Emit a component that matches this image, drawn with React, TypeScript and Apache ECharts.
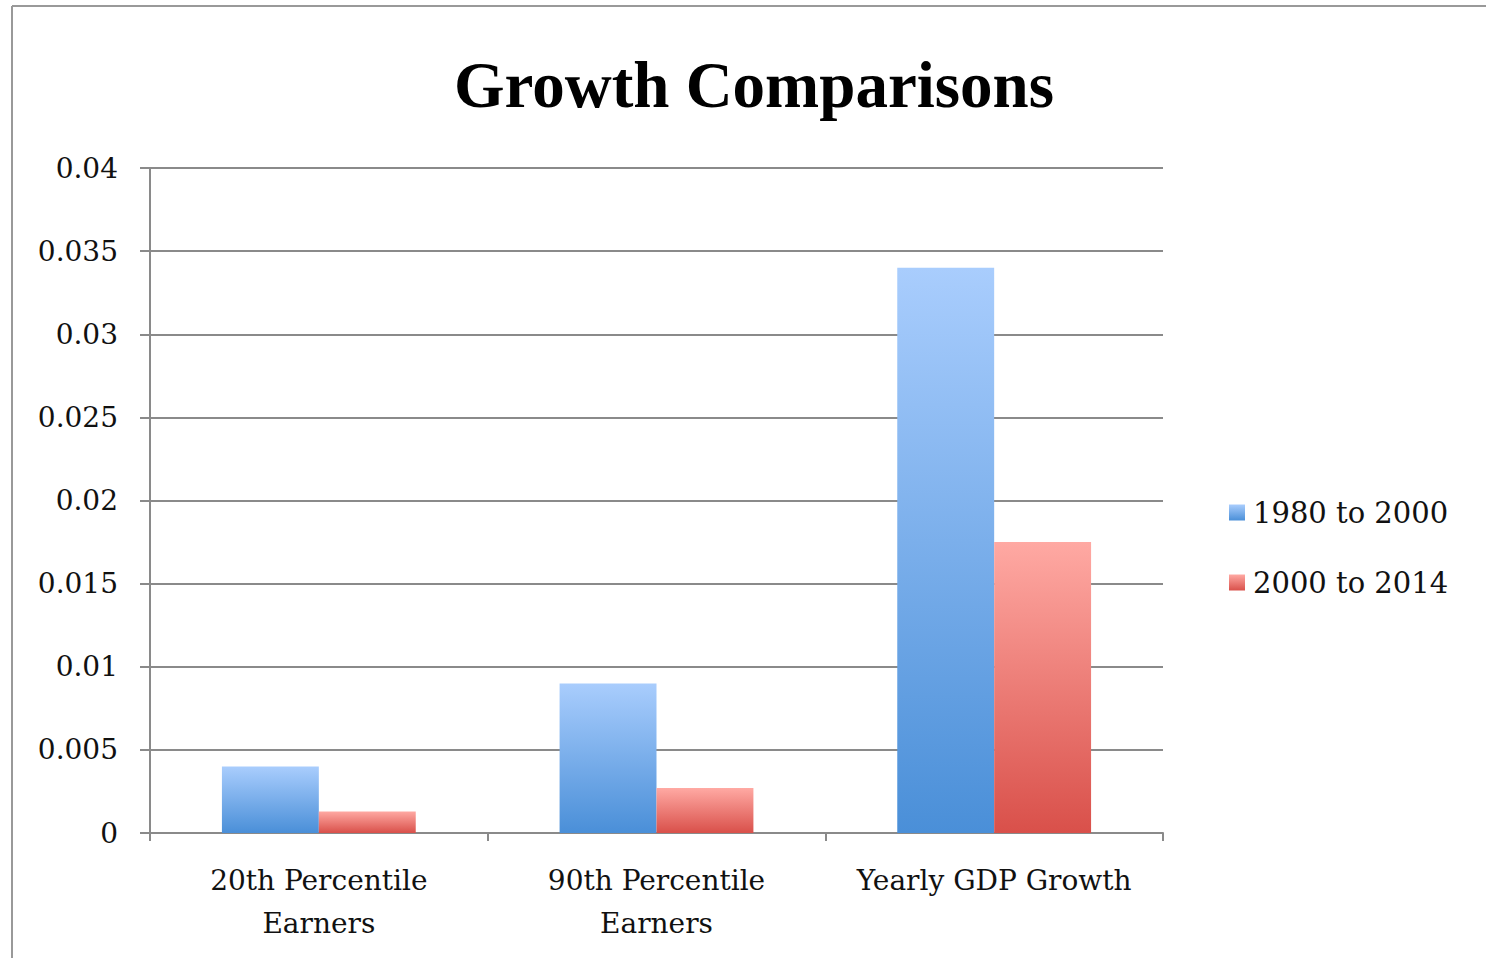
import React, { useEffect, useRef } from "react";
import * as echarts from "echarts";

const categories = ["20th Percentile\nEarners", "90th Percentile\nEarners", "Yearly GDP Growth"];
const seriesNames = ["1980 to 2000", "2000 to 2014"];
const values1980to2000 = [0.004, 0.009, 0.034];
const values2000to2014 = [0.0013, 0.0027, 0.0175];
const yMin = 0;
const yMax = 0.04;
const yInterval = 0.005;

const LABEL_FONT = "'DejaVu Serif', serif";
const TITLE_FONT = "'Liberation Serif', serif";

function blueGrad() {
  return new echarts.graphic.LinearGradient(0, 0, 0, 1, [
    { offset: 0, color: "#a9cdfd" },
    { offset: 1, color: "#4a8fd8" },
  ]);
}
function redGrad() {
  return new echarts.graphic.LinearGradient(0, 0, 0, 1, [
    { offset: 0, color: "#ffa9a3" },
    { offset: 1, color: "#d9504a" },
  ]);
}

export default function App() {
  const ref = useRef<HTMLDivElement>(null);
  useEffect(() => {
    if (!ref.current) return;
    const chart = echarts.init(ref.current, null, { renderer: "svg" });
    const axisColor = "#8a8a8a";
    chart.setOption({
      animation: false,
      backgroundColor: "#ffffff",
      title: {
        text: "Growth Comparisons",
        left: 749,
        textAlign: "center",
        top: 47,
        textStyle: { fontFamily: TITLE_FONT, fontWeight: "bold", fontSize: 65, color: "#000" },
      },
      graphic: [
        { type: "line", shape: { x1: 12, y1: 6, x2: 1486, y2: 6 }, style: { stroke: "#999", lineWidth: 2 } },
        { type: "line", shape: { x1: 12, y1: 6, x2: 12, y2: 958 }, style: { stroke: "#999", lineWidth: 2 } },
      ],
      legend: {
        orient: "vertical",
        left: 1229,
        top: 498,
        padding: 0,
        itemWidth: 16,
        itemHeight: 16,
        itemGap: 41,
        icon: "rect",
        textStyle: { fontFamily: LABEL_FONT, fontSize: 29, color: "#111", padding: [0, 0, 0, 3] },
        data: seriesNames,
      },
      grid: { left: 150, right: 323, top: 168, bottom: 125, containLabel: false },
      xAxis: {
        type: "category",
        data: categories,
        axisLine: { lineStyle: { color: axisColor, width: 2 } },
        axisTick: { show: true, length: 8, lineStyle: { color: axisColor, width: 2 } },
        axisLabel: {
          fontFamily: LABEL_FONT,
          fontSize: 28,
          color: "#111",
          margin: 26,
          lineHeight: 43,
          interval: 0,
        },
      },
      yAxis: {
        type: "value",
        min: yMin,
        max: yMax,
        interval: yInterval,
        axisLine: { show: true, lineStyle: { color: axisColor, width: 2 } },
        axisTick: { show: true, length: 10, lineStyle: { color: axisColor, width: 2 } },
        splitLine: { show: true, lineStyle: { color: axisColor, width: 2 } },
        axisLabel: {
          fontFamily: LABEL_FONT,
          fontSize: 28,
          color: "#111",
          margin: 32,
          padding: [10, 0, 0, 0],
          formatter: (v: number) => String(parseFloat(v.toFixed(3))),
        },
      },
      series: [
        {
          name: seriesNames[0],
          type: "bar",
          data: values1980to2000,
          barGap: "0%",
          barCategoryGap: "42.6%",
          itemStyle: { color: blueGrad() },
        },
        {
          name: seriesNames[1],
          type: "bar",
          data: values2000to2014,
          barGap: "0%",
          barCategoryGap: "42.6%",
          itemStyle: { color: redGrad() },
        },
      ],
    });
    return () => chart.dispose();
  }, []);
  return (
    <div
      ref={ref}
      style={{ position: "fixed", left: 0, top: 0, width: 1486, height: 958, background: "#fff" }}
    />
  );
}
